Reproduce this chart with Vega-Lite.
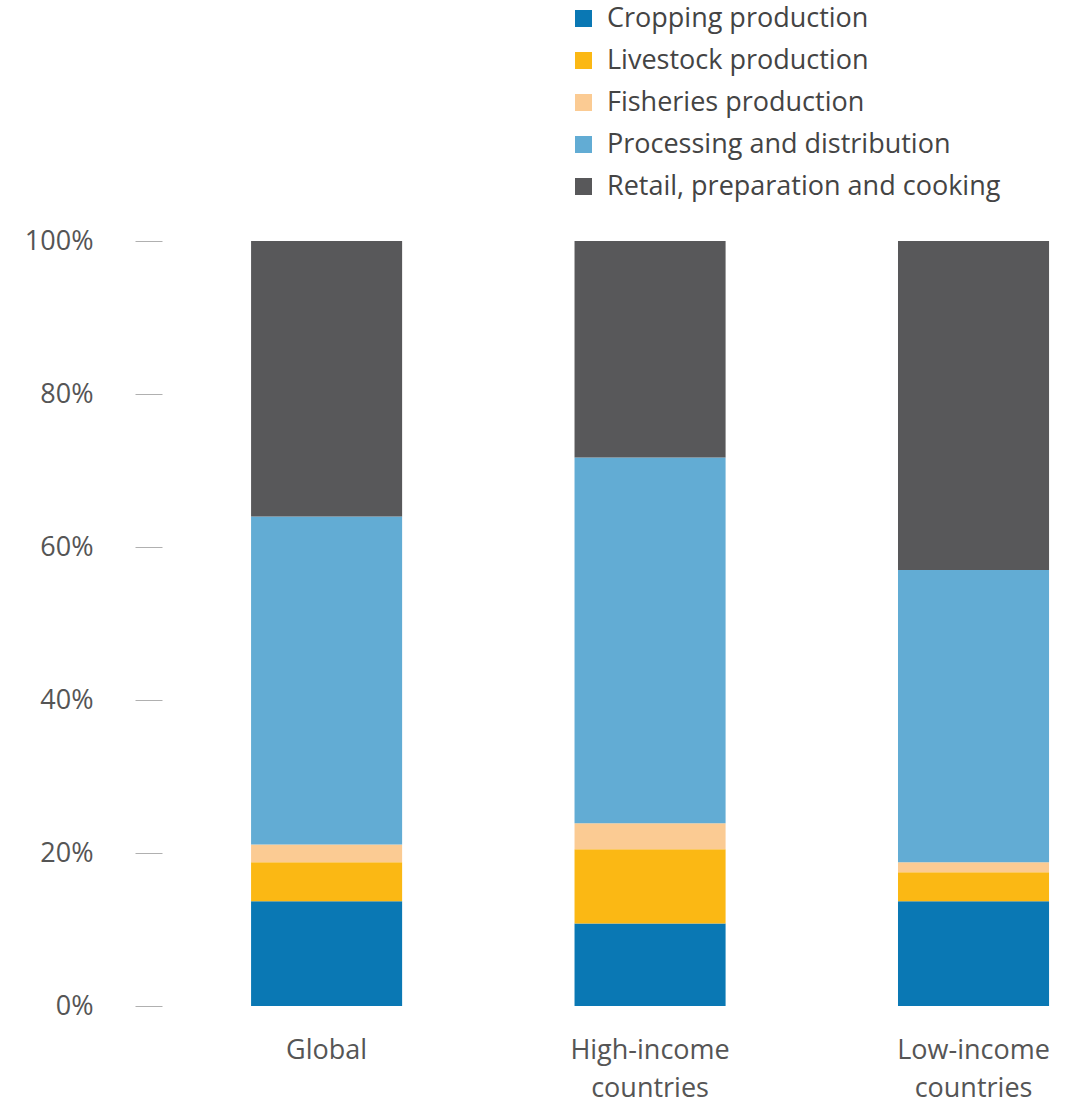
{
  "$schema": "https://vega.github.io/schema/vega-lite/v6.json",
  "width": 922,
  "height": 765,
  "autosize": "none",
  "padding": {"left": 165, "top": 241, "right": 0, "bottom": 98},
  "background": "white",
  "config": {"view": {"stroke": null}, "font": "Open Sans"},
  "data": {"values": [
    {"region": "Global", "stage": "Cropping production", "k": 1, "share": 13.7},
    {"region": "Global", "stage": "Livestock production", "k": 2, "share": 5.1},
    {"region": "Global", "stage": "Fisheries production", "k": 3, "share": 2.3},
    {"region": "Global", "stage": "Processing and distribution", "k": 4, "share": 42.9},
    {"region": "Global", "stage": "Retail, preparation and cooking", "k": 5, "share": 36.0},
    {"region": "High-income countries", "stage": "Cropping production", "k": 1, "share": 10.8},
    {"region": "High-income countries", "stage": "Livestock production", "k": 2, "share": 9.7},
    {"region": "High-income countries", "stage": "Fisheries production", "k": 3, "share": 3.4},
    {"region": "High-income countries", "stage": "Processing and distribution", "k": 4, "share": 47.8},
    {"region": "High-income countries", "stage": "Retail, preparation and cooking", "k": 5, "share": 28.3},
    {"region": "Low-income countries", "stage": "Cropping production", "k": 1, "share": 13.7},
    {"region": "Low-income countries", "stage": "Livestock production", "k": 2, "share": 3.8},
    {"region": "Low-income countries", "stage": "Fisheries production", "k": 3, "share": 1.3},
    {"region": "Low-income countries", "stage": "Processing and distribution", "k": 4, "share": 38.2},
    {"region": "Low-income countries", "stage": "Retail, preparation and cooking", "k": 5, "share": 43.0}
  ]},
  "mark": {"type": "bar"},
  "encoding": {
    "x": {
      "field": "region", "type": "nominal", "sort": null,
      "scale": {"paddingInner": 0.533, "paddingOuter": 0.1917, "align": 0.694},
      "axis": {
        "title": null, "domain": false, "ticks": false, "labelAngle": 0,
        "labelFontSize": 27, "labelColor": "#555555", "labelPadding": 31,
        "labelLineHeight": 38,
        "labelExpr": "datum.value == 'Global' ? 'Global' : split(datum.value, ' ')"
      }
    },
    "y": {
      "field": "share", "type": "quantitative", "stack": "zero",
      "scale": {"domain": [0, 100], "nice": false},
      "axis": {
        "title": null, "domain": false, "grid": false,
        "values": [0, 20, 40, 60, 80, 100],
        "labelExpr": "datum.value + '%'",
        "offset": 3, "tickSize": 27, "tickColor": "#b0b0b0", "tickWidth": 1,
        "labelFontSize": 27, "labelColor": "#555555", "labelPadding": 42
      }
    },
    "color": {
      "field": "stage", "type": "nominal",
      "scale": {
        "domain": ["Cropping production", "Livestock production", "Fisheries production", "Processing and distribution", "Retail, preparation and cooking"],
        "range": ["#0a78b4", "#fbb814", "#fbcb93", "#62acd4", "#58585a"]
      },
      "legend": {
        "title": null, "orient": "none", "legendX": 405, "legendY": -236,
        "symbolType": "square", "symbolSize": 289, "symbolStrokeWidth": 0,
        "labelFontSize": 27, "labelColor": "#444444", "labelOffset": 10,
        "rowPadding": 14, "labelLimit": 600
      }
    },
    "order": {"field": "k", "type": "quantitative", "sort": "ascending"}
  }
}
